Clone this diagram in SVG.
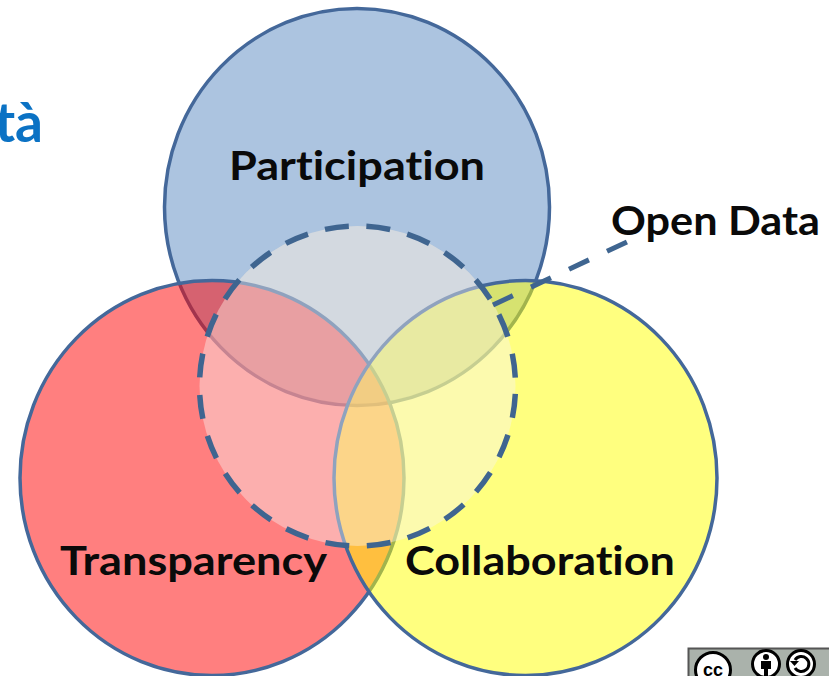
<svg xmlns="http://www.w3.org/2000/svg" width="829" height="676" viewBox="0 0 829 676">
<style>
text{font-family:"Lato","Liberation Sans",sans-serif;font-weight:700;fill:#0a0a0a;font-variant-ligatures:none}
.lbl{font-size:41px}
.set{stroke:#44689a;stroke-width:3.5}
.dash{stroke:#3f6590;stroke-width:5.500;fill:none;stroke-dasharray:24 17.660;stroke-dashoffset:-8}
.badge{fill:#fff;stroke:#000;stroke-width:3}
</style>
<defs>
<clipPath id="in-open"><ellipse cx="357.500" cy="386" rx="158" ry="160"/></clipPath>
</defs>
<rect width="829" height="676" fill="#fff"/>
<text x="43" y="142" text-anchor="end" style="font-size:55px;fill:#0b72c4">tà</text>
<g id="participation">
<ellipse class="set" cx="357" cy="207" rx="192.500" ry="198.500" fill="#4f81bd" fill-opacity=".47"/>
<text class="lbl" x="229" y="180" textLength="256" lengthAdjust="spacingAndGlyphs">Participation</text>
</g>
<ellipse cx="357" cy="207" rx="191" ry="197" fill="#e0d0b0" fill-opacity=".25" clip-path="url(#in-open)"/>
<g id="transparency">
<ellipse class="set" cx="212" cy="478" rx="192" ry="197.500" fill="#ff0000" fill-opacity=".5"/>
<text class="lbl" x="60" y="575" textLength="267" lengthAdjust="spacingAndGlyphs">Transparency</text>
</g>
<g id="collaboration">
<ellipse class="set" cx="525.500" cy="478" rx="191.500" ry="197.500" fill="#ffff00" fill-opacity=".5"/>
<text class="lbl" x="405" y="575" textLength="270" lengthAdjust="spacingAndGlyphs">Collaboration</text>
</g>
<g id="open-data">
<ellipse cx="357.500" cy="386" rx="158" ry="160" fill="#f8f4f0" fill-opacity=".42"/>
<ellipse class="dash" cx="357.500" cy="386" rx="158" ry="160"/>
<text class="lbl" x="611" y="235" textLength="209" lengthAdjust="spacingAndGlyphs">Open Data</text>
</g>
<g id="connectors">
<line class="dash" x1="493" y1="305" x2="629" y2="241" style="stroke-width:5;stroke-dasharray:22 20;stroke-dashoffset:0"/>
</g>
<g id="cc-badge">
<rect x="688.500" y="648.500" width="145" height="40" fill="#aab2ab" stroke="#555" stroke-width="2"/>
<circle class="badge" cx="713" cy="670" r="17.500"/>
<text x="713" y="675.500" text-anchor="middle" style="font-size:18px;font-family:'Liberation Sans',sans-serif;fill:#000">cc</text>
<circle class="badge" cx="766" cy="664" r="13.500"/>
<circle cx="766" cy="657" r="3"/>
<path d="M761 661h10v8h-3v8h-4v-8h-3z"/>
<circle class="badge" cx="801" cy="664" r="13.500"/>
<path d="M795 660a7.500 7.500 0 1 1 0 8" fill="none" stroke="#000" stroke-width="3"/>
<path d="M790 661h9l-4.500 5z"/>
</g>
</svg>
